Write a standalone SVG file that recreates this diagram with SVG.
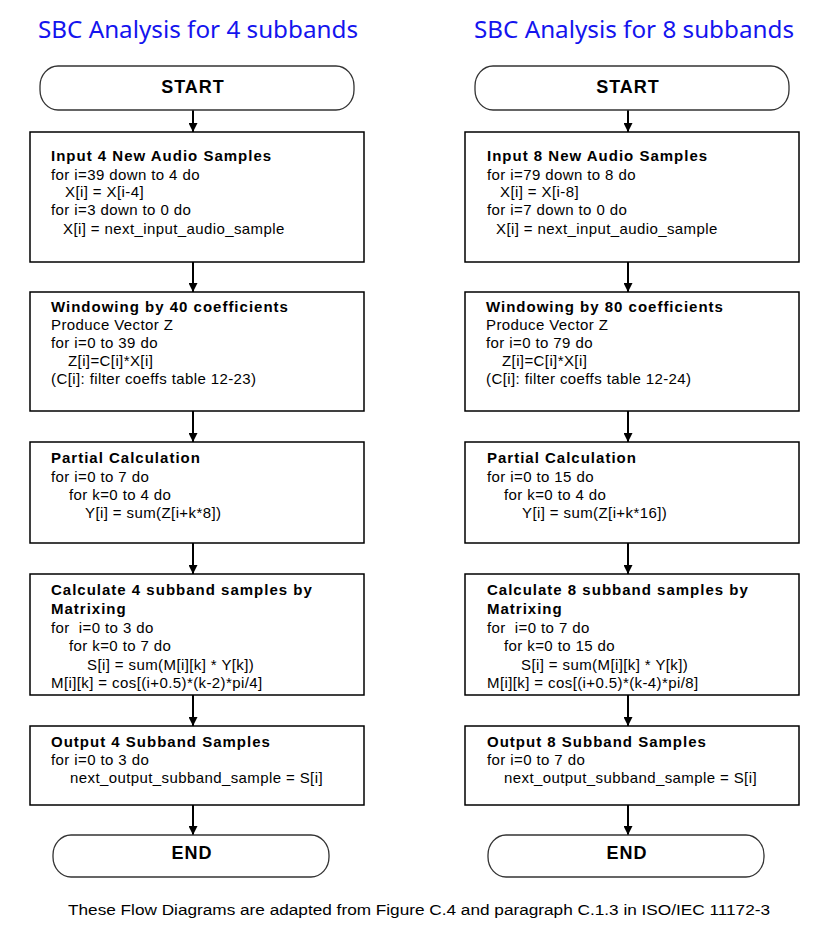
<svg xmlns="http://www.w3.org/2000/svg" width="837" height="930" viewBox="0 0 837 930">
<style>
.title{font-family:"Noto Sans","DejaVu Sans",sans-serif;font-size:24px;fill:#1414ee}
.box{fill:#fff;stroke:#000;stroke-width:1.5}
.term{fill:#fff;stroke:#333;stroke-width:1.3}
.tt{font-family:"Liberation Sans",Arial,sans-serif;font-size:18px;font-weight:bold;letter-spacing:1px;text-anchor:middle;fill:#000}
.h{font-family:"Liberation Sans",Arial,sans-serif;font-size:15px;font-weight:bold;letter-spacing:1px;fill:#000}
.t{font-family:"Liberation Sans",Arial,sans-serif;font-size:15px;letter-spacing:0.4px;fill:#000;white-space:pre}
.conn{stroke:#000;stroke-width:2;fill:none;marker-end:url(#ah)}
.foot{font-family:"Liberation Sans",Arial,sans-serif;font-size:14px;fill:#000}
</style>
<defs>
<marker id="ah" markerWidth="8" markerHeight="9" refX="4" refY="9" orient="auto" markerUnits="userSpaceOnUse" viewBox="0 0 8 9">
<path d="M0,0 L8,0 L4,9 Z" fill="#000" transform="rotate(-90 4 4.5) translate(0 0)"/>
</marker>
<marker id="ah2" markerWidth="9" markerHeight="9" refX="9" refY="4.5" orient="auto" markerUnits="userSpaceOnUse" viewBox="0 0 9 9">
<path d="M0,0 L9,4.5 L0,9 Z" fill="#000"/>
</marker>
</defs>
<rect width="837" height="930" fill="#fff"/>

<text class="title" x="38" y="38" textLength="320" lengthAdjust="spacingAndGlyphs">SBC Analysis for 4 subbands</text>
<text class="title" x="474" y="38" textLength="320" lengthAdjust="spacingAndGlyphs">SBC Analysis for 8 subbands</text>

<g id="connectors">
<line class="conn" style="marker-end:url(#ah2)" x1="193" y1="110" x2="193" y2="132"/>
<line class="conn" style="marker-end:url(#ah2)" x1="193" y1="262" x2="193" y2="292"/>
<line class="conn" style="marker-end:url(#ah2)" x1="193" y1="411" x2="193" y2="442"/>
<line class="conn" style="marker-end:url(#ah2)" x1="193" y1="543" x2="193" y2="574"/>
<line class="conn" style="marker-end:url(#ah2)" x1="193" y1="695" x2="193" y2="726"/>
<line class="conn" style="marker-end:url(#ah2)" x1="193" y1="805" x2="193" y2="835"/>
<line class="conn" style="marker-end:url(#ah2)" x1="628" y1="110" x2="628" y2="132"/>
<line class="conn" style="marker-end:url(#ah2)" x1="628" y1="262" x2="628" y2="292"/>
<line class="conn" style="marker-end:url(#ah2)" x1="628" y1="411" x2="628" y2="442"/>
<line class="conn" style="marker-end:url(#ah2)" x1="628" y1="543" x2="628" y2="574"/>
<line class="conn" style="marker-end:url(#ah2)" x1="628" y1="695" x2="628" y2="726"/>
<line class="conn" style="marker-end:url(#ah2)" x1="628" y1="805" x2="628" y2="835"/>
</g>

<g id="start4">
<rect class="term" x="40" y="66" width="314" height="44" rx="18" ry="20"/>
<text class="tt" x="193" y="93">START</text>
</g>
<g id="input4">
<rect class="box" x="30" y="132" width="334" height="130"/>
<text class="h" x="51" y="161">Input 4 New Audio Samples</text>
<text class="t" x="51" y="180">for i=39 down to 4 do</text>
<text class="t" x="65" y="197">X[i] = X[i-4]</text>
<text class="t" x="51" y="215">for i=3 down to 0 do</text>
<text class="t" x="63" y="234">X[i] = next_input_audio_sample</text>
</g>
<g id="window4">
<rect class="box" x="30" y="292" width="334" height="119"/>
<text class="h" x="51" y="312">Windowing by 40 coefficients</text>
<text class="t" x="51" y="330">Produce Vector Z</text>
<text class="t" x="51" y="348">for i=0 to 39 do</text>
<text class="t" x="68" y="366">Z[i]=C[i]*X[i]</text>
<text class="t" x="51" y="384">(C[i]: filter coeffs table 12-23)</text>
</g>
<g id="partial4">
<rect class="box" x="30" y="442" width="334" height="101"/>
<text class="h" x="51" y="463">Partial Calculation</text>
<text class="t" x="51" y="482">for i=0 to 7 do</text>
<text class="t" x="69" y="500">for k=0 to 4 do</text>
<text class="t" x="85" y="518">Y[i] = sum(Z[i+k*8])</text>
</g>
<g id="matrix4">
<rect class="box" x="30" y="574" width="334" height="121"/>
<text class="h" x="51" y="595">Calculate 4 subband samples by</text>
<text class="h" x="51" y="614">Matrixing</text>
<text class="t" x="51" y="633">for  i=0 to 3 do</text>
<text class="t" x="69" y="651">for k=0 to 7 do</text>
<text class="t" x="87" y="670">S[i] = sum(M[i][k] * Y[k])</text>
<text class="t" x="51" y="688">M[i][k] = cos[(i+0.5)*(k-2)*pi/4]</text>
</g>
<g id="output4">
<rect class="box" x="30" y="726" width="334" height="79"/>
<text class="h" x="51" y="747">Output 4 Subband Samples</text>
<text class="t" x="51" y="765">for i=0 to 3 do</text>
<text class="t" x="70" y="783">next_output_subband_sample = S[i]</text>
</g>
<g id="end4">
<rect class="term" x="53" y="835" width="276" height="42" rx="18" ry="20"/>
<text class="tt" x="192" y="859">END</text>
</g>

<g id="start8">
<rect class="term" x="475" y="66" width="314" height="44" rx="18" ry="20"/>
<text class="tt" x="628" y="93">START</text>
</g>
<g id="input8">
<rect class="box" x="465" y="132" width="334" height="130"/>
<text class="h" x="487" y="161">Input 8 New Audio Samples</text>
<text class="t" x="487" y="180">for i=79 down to 8 do</text>
<text class="t" x="500" y="197">X[i] = X[i-8]</text>
<text class="t" x="487" y="215">for i=7 down to 0 do</text>
<text class="t" x="496" y="234">X[i] = next_input_audio_sample</text>
</g>
<g id="window8">
<rect class="box" x="465" y="292" width="334" height="119"/>
<text class="h" x="486" y="312">Windowing by 80 coefficients</text>
<text class="t" x="486" y="330">Produce Vector Z</text>
<text class="t" x="486" y="348">for i=0 to 79 do</text>
<text class="t" x="502" y="366">Z[i]=C[i]*X[i]</text>
<text class="t" x="486" y="384">(C[i]: filter coeffs table 12-24)</text>
</g>
<g id="partial8">
<rect class="box" x="465" y="442" width="334" height="101"/>
<text class="h" x="487" y="463">Partial Calculation</text>
<text class="t" x="487" y="482">for i=0 to 15 do</text>
<text class="t" x="504" y="500">for k=0 to 4 do</text>
<text class="t" x="522" y="518">Y[i] = sum(Z[i+k*16])</text>
</g>
<g id="matrix8">
<rect class="box" x="465" y="574" width="334" height="121"/>
<text class="h" x="487" y="595">Calculate 8 subband samples by</text>
<text class="h" x="487" y="614">Matrixing</text>
<text class="t" x="487" y="633">for  i=0 to 7 do</text>
<text class="t" x="504" y="651">for k=0 to 15 do</text>
<text class="t" x="521" y="670">S[i] = sum(M[i][k] * Y[k])</text>
<text class="t" x="487" y="688">M[i][k] = cos[(i+0.5)*(k-4)*pi/8]</text>
</g>
<g id="output8">
<rect class="box" x="465" y="726" width="334" height="79"/>
<text class="h" x="487" y="747">Output 8 Subband Samples</text>
<text class="t" x="487" y="765">for i=0 to 7 do</text>
<text class="t" x="504" y="783">next_output_subband_sample = S[i]</text>
</g>
<g id="end8">
<rect class="term" x="488" y="835" width="276" height="42" rx="18" ry="20"/>
<text class="tt" x="627" y="859">END</text>
</g>

<text class="foot" x="68" y="915" textLength="702" lengthAdjust="spacingAndGlyphs">These Flow Diagrams are adapted from Figure C.4 and paragraph C.1.3 in ISO/IEC 11172-3</text>
</svg>
